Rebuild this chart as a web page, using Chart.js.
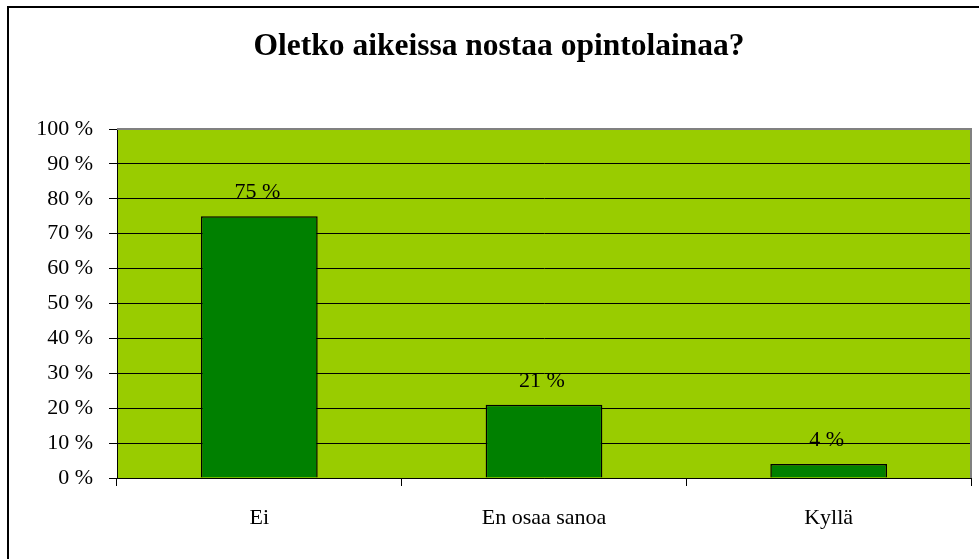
<!DOCTYPE html>
<html>
<head>
<meta charset="utf-8">
<script src="https://cdn.jsdelivr.net/npm/chart.js@4/dist/chart.umd.min.js"></script>
<style>
  html, body { margin: 0; padding: 0; background: #fff; }
  #wrap { width: 979px; height: 559px; }
</style>
</head>
<body>
<div id="wrap"><canvas id="chart" width="979" height="559"></canvas></div>
<script>
// chart data
const title = 'Oletko aikeissa nostaa opintolainaa?';
const categories = ['Ei', 'En osaa sanoa', 'Kyllä'];
const values = [75, 21, 4];
const yTicks = [0, 10, 20, 30, 40, 50, 60, 70, 80, 90, 100];

const SERIF = '"Liberation Serif", "Times New Roman", serif';

// green plot background, gray top/right edges, clipped outer frame, title
const frame = {
    id: 'frame',
    beforeDraw(chart) {
        const { ctx, chartArea: a } = chart;
        ctx.save();
        ctx.fillStyle = '#99cc00';
        ctx.fillRect(a.left, a.top, a.right - a.left, a.bottom - a.top);
        ctx.restore();
    },
    afterDraw(chart) {
        const { ctx, chartArea: a } = chart;
        ctx.save();
        ctx.strokeStyle = '#808080';
        ctx.lineWidth = 2;
        ctx.beginPath();
        ctx.moveTo(a.left, a.top);
        ctx.lineTo(a.right, a.top);
        ctx.lineTo(a.right, a.bottom);
        ctx.stroke();
        ctx.strokeStyle = '#000';
        ctx.beginPath();
        ctx.moveTo(8, chart.height);
        ctx.lineTo(8, 7);
        ctx.lineTo(chart.width, 7);
        ctx.stroke();

        // title sits a little right of the canvas centre in the original
        ctx.font = 'bold 31.5px ' + SERIF;
        ctx.fillStyle = '#000';
        ctx.textAlign = 'center';
        ctx.textBaseline = 'alphabetic';
        ctx.fillText(title, 499, 55);
        ctx.restore();
    }
};

// value labels above the bars
const barLabels = {
    id: 'barLabels',
    afterDatasetsDraw(chart) {
        const { ctx } = chart;
        const meta = chart.getDatasetMeta(0);
        ctx.save();
        ctx.font = '22px ' + SERIF;
        ctx.fillStyle = '#000';
        ctx.textAlign = 'center';
        ctx.textBaseline = 'alphabetic';
        meta.data.forEach((bar, i) => {
            ctx.fillText(values[i] + ' %', bar.x - 2, bar.y - 18);
        });
        ctx.restore();
    }
};

new Chart(document.getElementById('chart'), {
    type: 'bar',
    data: {
        labels: categories,
        datasets: [{
            data: values,
            backgroundColor: '#008000',
            borderColor: '#000',
            borderWidth: 1.5,
            categoryPercentage: 1,
            barPercentage: 0.41,
        }],
    },
    options: {
        responsive: false,
        animation: false,
        layout: { padding: { left: 0, right: 8, top: 129, bottom: 0 } },
        plugins: {
            legend: { display: false },
            tooltip: { enabled: false },
            title: { display: false },
        },
        scales: {
            x: {
                grid: { drawOnChartArea: false, color: '#000', tickLength: 8, offset: true },
                border: { color: '#000', width: 1 },
                ticks: { color: '#000', font: { family: SERIF, size: 22 }, padding: 19, maxRotation: 0 },
                afterFit(scale) { scale.height = 81; },
            },
            y: {
                min: 0,
                max: 100,
                afterBuildTicks(scale) { scale.ticks = yTicks.map(v => ({ value: v })); },
                grid: { color: '#000', tickLength: 8 },
                border: { color: '#000', width: 1 },
                ticks: {
                    color: '#000',
                    font: { family: SERIF, size: 22 },
                    padding: 16,
                    callback: v => v + ' %',
                },
                afterFit(scale) { scale.width = 117; },
            },
        },
    },
    plugins: [frame, barLabels],
});
</script>
</body>
</html>
